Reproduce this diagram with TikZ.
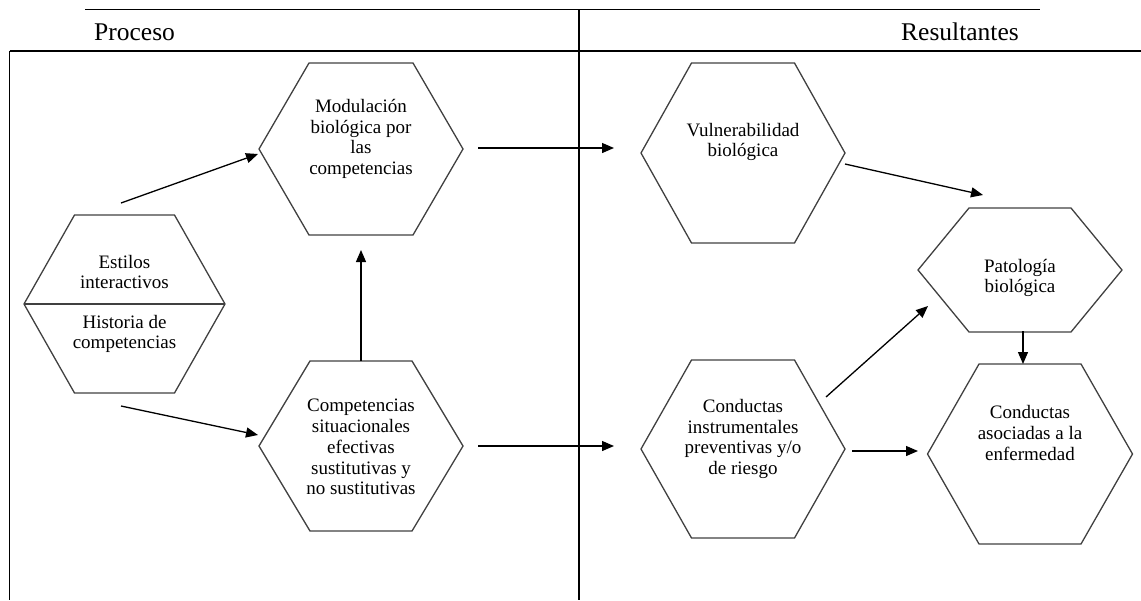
\documentclass[tikz,border=0pt]{standalone}
\usepackage{fontspec}
\setmainfont{Liberation Serif}
\usetikzlibrary{arrows.meta,calc}
\newcommand{\hexpoly}[4]{% center, half width, half height, top half width
  \draw[hexline] ($(#1)+(-#2,0)$) -- ($(#1)+(-#4,-#3)$) -- ($(#1)+(#4,-#3)$) -- ($(#1)+(#2,0)$) -- ($(#1)+(#4,#3)$) -- ($(#1)+(-#4,#3)$) -- cycle;}
\tikzset{
  hexline/.style={line width=1.3pt, draw=black!75},
  frameline/.style={line width=1.4pt, draw=black},
  conn/.style={line width=1.3pt, -{Triangle[length=12pt,width=10pt]}},
  lbl/.style={align=center, inner sep=0pt, font=\fontsize{19}{20.8}\selectfont},
  hdr/.style={anchor=base west, inner sep=0pt, font=\fontsize{25.5}{28}\selectfont}
}
\begin{document}
\begin{tikzpicture}[x=1pt,y=-1pt]
\useasboundingbox (0,0) rectangle (1141,600);
% frame lines
\draw[frameline] (85,9.5) -- (1040,9.5);
\draw[frameline] (579,9.5) -- (579,600);
\draw[frameline] (9.5,51) -- (1141,51);
\draw[frameline] (9.5,51) -- (9.5,600);
% headers
\node[hdr] (proc) at (94,40) {Proceso};
\node[hdr] (res) at (901,40) {Resultantes};
% hexagon centres
\coordinate (cmod) at (361,149);
\coordinate (ccomp) at (361,446);
\coordinate (cest) at (124.5,304);
\coordinate (cvul) at (743,153);
\coordinate (cpat) at (1020,270);
\coordinate (ccin) at (743,449);
\coordinate (ccas) at (1030,454);
\hexpoly{cmod}{102}{86}{52}
\hexpoly{ccomp}{102}{85}{51}
\hexpoly{cest}{100.5}{89}{50}
\hexpoly{cvul}{102}{90}{51.5}
\hexpoly{cpat}{102}{62}{51}
\hexpoly{ccin}{102}{89}{51.5}
\hexpoly{ccas}{102.5}{90}{51}
\draw[hexline] (24,304) -- (225,304);
% texts
\node[lbl] (mod) at (361,139) {Modulación\\biológica por\\las\\competencias};
\node[lbl] (comp) at (361,447) {Competencias\\situacionales\\efectivas\\sustitutivas y\\no sustitutivas};
\node[lbl] (est) at (124.5,272) {Estilos\\interactivos};
\node[lbl] (hist) at (124.5,334) {Historia de\\competencias};
\node[lbl] (vul) at (743,142) {Vulnerabilidad\\biológica};
\node[lbl] (pat) at (1020,278) {Patología\\biológica};
\node[lbl] (cin) at (743,439) {Conductas\\instrumentales\\preventivas y/o\\de riesgo};
\node[lbl] (cas) at (1030,433) {Conductas\\asociadas a la\\enfermedad};
% connector end points
\coordinate (a1s) at (121,203); \coordinate (a1t) at (258,154);
\coordinate (a2s) at (121,406); \coordinate (a2t) at (258,435);
\coordinate (a3s) at (361,361); \coordinate (a3t) at (361,250);
\coordinate (a4s) at (478,148); \coordinate (a4t) at (614,148);
\coordinate (a5s) at (478,446); \coordinate (a5t) at (614,446);
\coordinate (a6s) at (845,164); \coordinate (a6t) at (983,195);
\coordinate (a7s) at (826,397); \coordinate (a7t) at (928,306);
\coordinate (a8s) at (852,451); \coordinate (a8t) at (918,451);
\coordinate (a9s) at (1023,331); \coordinate (a9t) at (1023,364);
\draw[conn] (a1s) -- (a1t);
\draw[conn] (a2s) -- (a2t);
\draw[conn] (a3s) -- (a3t);
\draw[conn] (a4s) -- (a4t);
\draw[conn] (a5s) -- (a5t);
\draw[conn] (a6s) -- (a6t);
\draw[conn] (a7s) -- (a7t);
\draw[conn] (a8s) -- (a8t);
\draw[conn] (a9s) -- (a9t);
\end{tikzpicture}
\end{document}
